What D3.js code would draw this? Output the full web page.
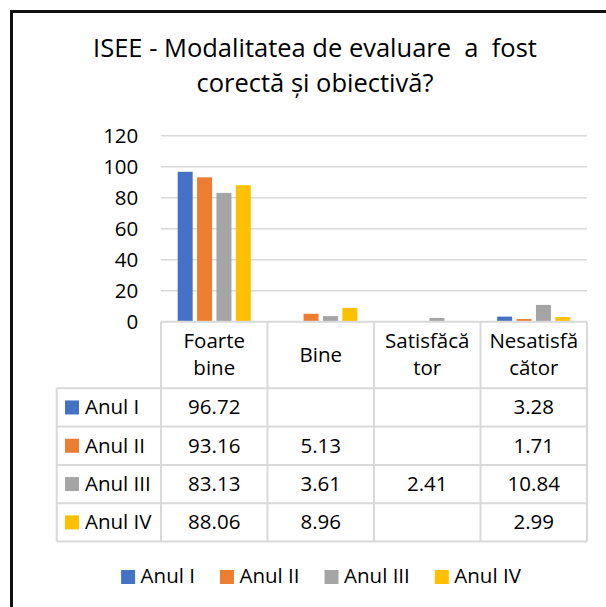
<!DOCTYPE html>
<html>
<head>
<meta charset="utf-8">
<script src="https://cdnjs.cloudflare.com/ajax/libs/d3/7.8.5/d3.min.js"></script>
<style>
    body { margin: 0; background: #ffffff; }
    svg { display: block; font-family: "Open Sans", sans-serif; }
</style>
</head>
<body>
<svg id="chart" width="606" height="607"></svg>
<script>
// Chart data
var titleLines = ["ISEE - Modalitatea de evaluare  a  fost", "corectă și obiectivă?"];
var categories = ["Foarte bine", "Bine", "Satisfăcător", "Nesatisfăcător"];
// The way the category names wrap in the table header
var categoryLines = [["Foarte", "bine"], ["Bine"], ["Satisfăcă", "tor"], ["Nesatisfă", "cător"]];
var seriesNames = ["Anul I", "Anul II", "Anul III", "Anul IV"];
var anulI = [96.72, null, null, 3.28];
var anulII = [93.16, 5.13, null, 1.71];
var anulIII = [83.13, 3.61, 2.41, 10.84];
var anulIV = [88.06, 8.96, null, 2.99];
var yTicks = [0, 20, 40, 60, 80, 100, 120];
var colors = ["#4472C4", "#ED7D31", "#A5A5A5", "#FFC000"];

var seriesValues = [anulI, anulII, anulIII, anulIV];

var svg = d3.select("#chart");
var gridColor = "#d9d9d9";
var textColor = "#000000";

// Plot area and table geometry
var plotLeft = 161, plotRight = 587, plotTop = 135.7, plotBottom = 321.7;
var tableLeft = 56.7, headerBottom = 388.3, rowHeight = 38.3;

// Scales
var x0 = d3.scaleBand().domain(categories).range([plotLeft, plotRight]);
var x1 = d3.scaleBand().domain(seriesNames).range([0, x0.bandwidth()])
    .paddingInner(0.227).paddingOuter(0.86);
var y = d3.scaleLinear().domain([0, 120]).range([plotBottom, plotTop]);

// Outer frame (only the top and left edges are inside the picture)
svg.append("path")
    .attr("d", "M11.5,610 L11.5,11.5 L610,11.5")
    .attr("fill", "none")
    .attr("stroke", "#111")
    .attr("stroke-width", 3);

// Title, one text element with a tspan per line
svg.append("text")
    .attr("text-anchor", "middle")
    .style("white-space", "pre")
    .style("font-size", "25.5px")
    .attr("fill", textColor)
    .selectAll("tspan").data(titleLines).enter()
    .append("tspan")
    .attr("x", 315)
    .attr("y", function (d, i) { return 57 + i * 34.9; })
    .text(function (d) { return d; });

// Gridlines
svg.append("g").selectAll("line").data(yTicks.filter(function (t) { return t > 0; })).enter()
    .append("line")
    .attr("x1", plotLeft)
    .attr("x2", plotRight)
    .attr("y1", function (d) { return y(d); })
    .attr("y2", function (d) { return y(d); })
    .attr("stroke", gridColor)
    .attr("stroke-width", 1.5);

// Y axis labels
svg.append("g").selectAll("text").data(yTicks).enter()
    .append("text")
    .attr("x", 138.3)
    .attr("y", function (d) { return y(d) + 7; })
    .attr("text-anchor", "end")
    .style("font-size", "20.5px")
    .attr("fill", textColor)
    .text(function (d) { return d; });

// Bars
var groups = svg.append("g").selectAll("g").data(seriesNames).enter()
    .append("g")
    .attr("fill", function (d, i) { return colors[i]; });

groups.selectAll("rect")
    .data(function (s, si) {
        return categories.map(function (c, ci) {
            return { series: s, category: c, value: seriesValues[si][ci] };
        }).filter(function (d) { return d.value != null; });
    })
    .enter()
    .append("rect")
    .attr("x", function (d) { return x0(d.category) + x1(d.series); })
    .attr("y", function (d) { return y(d.value); })
    .attr("width", x1.bandwidth())
    .attr("height", function (d) { return y(0) - y(d.value); });

// Data table
var table = svg.append("g");
var tableBottom = headerBottom + rowHeight * seriesNames.length;

// Horizontal rules: header top (axis line) and row lines
table.append("line")
    .attr("x1", plotLeft).attr("x2", plotRight)
    .attr("y1", plotBottom).attr("y2", plotBottom)
    .attr("stroke", gridColor).attr("stroke-width", 2);

table.selectAll(".rowLine").data(d3.range(seriesNames.length + 1)).enter()
    .append("line")
    .attr("class", "rowLine")
    .attr("x1", tableLeft).attr("x2", plotRight)
    .attr("y1", function (i) { return headerBottom + i * rowHeight; })
    .attr("y2", function (i) { return headerBottom + i * rowHeight; })
    .attr("stroke", gridColor).attr("stroke-width", 2);

// Vertical rules
table.append("line")
    .attr("x1", tableLeft).attr("x2", tableLeft)
    .attr("y1", headerBottom).attr("y2", tableBottom)
    .attr("stroke", gridColor).attr("stroke-width", 2);

table.selectAll(".colLine").data(categories.concat(["end"])).enter()
    .append("line")
    .attr("class", "colLine")
    .attr("x1", function (d) { return d == "end" ? plotRight : x0(d); })
    .attr("x2", function (d) { return d == "end" ? plotRight : x0(d); })
    .attr("y1", plotBottom).attr("y2", tableBottom)
    .attr("stroke", gridColor).attr("stroke-width", 2);

// Header text
var headerMid = (plotBottom + headerBottom) / 2;
table.selectAll(".header").data(categories).enter()
    .append("text")
    .attr("class", "header")
    .attr("text-anchor", "middle")
    .style("font-size", "20.5px")
    .attr("fill", textColor)
    .each(function (c, ci) {
        var lines = categoryLines[ci];
        d3.select(this).selectAll("tspan").data(lines).enter()
            .append("tspan")
            .attr("x", x0(c) + x0.bandwidth() / 2)
            .attr("y", function (l, i) { return headerMid + 6.5 + (i - (lines.length - 1) / 2) * 27.3; })
            .text(function (l) { return l; });
    });

// Row labels with legend keys
var rows = table.selectAll(".row").data(seriesNames).enter()
    .append("g")
    .attr("class", "row")
    .attr("transform", function (d, i) { return "translate(0," + (headerBottom + i * rowHeight + rowHeight / 2) + ")"; });

rows.append("rect")
    .attr("x", 65).attr("y", -7)
    .attr("width", 14).attr("height", 14)
    .attr("fill", function (d, i) { return colors[i]; });

rows.append("text")
    .attr("x", 85).attr("y", 7)
    .style("font-size", "20.5px")
    .attr("fill", textColor)
    .text(function (d) { return d; });

// Row values
rows.selectAll(".val")
    .data(function (s, si) {
        return categories.map(function (c, ci) { return { category: c, value: seriesValues[si][ci] }; })
            .filter(function (d) { return d.value != null; });
    })
    .enter()
    .append("text")
    .attr("class", "val")
    .attr("x", function (d) { return x0(d.category) + x0.bandwidth() / 2; })
    .attr("y", 7)
    .attr("text-anchor", "middle")
    .style("font-size", "20.5px")
    .attr("fill", textColor)
    .text(function (d) { return d.value.toFixed(2); });

// Bottom legend, centred under the chart
var legend = svg.append("g");
var items = legend.selectAll("g").data(seriesNames).enter().append("g");
items.append("rect")
    .attr("width", 14).attr("height", 14)
    .attr("y", 570)
    .attr("fill", function (d, i) { return colors[i]; });
items.append("text")
    .attr("x", 19.5).attr("y", 583.3)
    .style("font-size", "20.5px")
    .attr("fill", textColor)
    .text(function (d) { return d; });

var offsets = [];
var running = 0;
items.each(function () {
    offsets.push(running);
    running += 19.5 + d3.select(this).select("text").node().getComputedTextLength() + 25;
});
var legendWidth = running - 25;
var legendStart = 321 - legendWidth / 2;
items.attr("transform", function (d, i) { return "translate(" + (legendStart + offsets[i]) + ",0)"; });
</script>
</body>
</html>
